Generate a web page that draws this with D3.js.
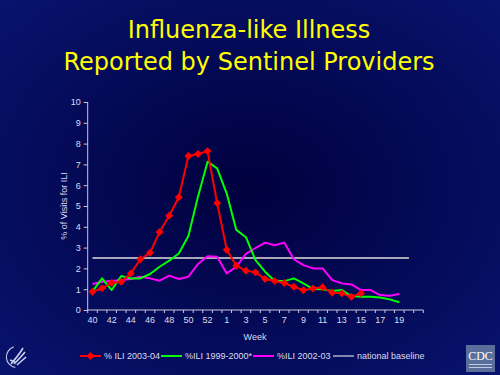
<!DOCTYPE html>
<html>
<head>
<meta charset="utf-8">
<script src="https://cdn.jsdelivr.net/npm/d3@7"></script>
<style>
  html, body { margin: 0; padding: 0; background: #000055; }
  svg { display: block; }
  .axis text { font-family: "Liberation Sans", Arial, sans-serif; font-size: 9px; fill: #dcdcf0; }
  .axis path, .axis line { stroke: #c8c8dc; }
</style>
</head>
<body>
<div id="chart"></div>
<script>
// weeks 40-53 of 2003, then 1-21 of 2004
const weeks = [40,41,42,43,44,45,46,47,48,49,50,51,52,53,
               1,2,3,4,5,6,7,8,9,10,11,12,13,14,15,16,17,18,19,20,21];
const tickLabels = [40,42,44,46,48,50,52,1,3,5,7,9,11,13,15,17,19];

const ili0304 = [0.88,1.04,1.30,1.36,1.76,2.44,2.75,3.75,4.53,5.42,7.40,7.50,7.64,5.14,
                 2.90,2.13,1.89,1.81,1.49,1.39,1.30,1.12,0.95,1.03,1.09,0.83,0.80,0.64,0.80];
const ili9900 = [0.90,1.52,0.96,1.63,1.52,1.52,1.73,2.08,2.37,2.72,3.56,5.45,7.13,6.81,
                 5.60,3.85,3.50,2.40,1.84,1.39,1.39,1.52,1.28,1.01,1.00,0.91,0.96,0.67,0.64,
                 0.64,0.60,0.51,0.37];
const ili0203 = [1.25,1.36,1.39,1.44,1.49,1.60,1.52,1.41,1.65,1.49,1.60,2.21,2.58,2.56,
                 1.76,2.08,2.70,2.98,3.24,3.11,3.24,2.44,2.16,2.00,2.00,1.44,1.28,1.23,0.96,
                 0.96,0.72,0.69,0.77];
const baseline = weeks.slice(0, 34).map(() => 2.5);

const W = 500, H = 375;
const margin = {left: 87.7, right: 76.7, top: 102, bottom: 65};

const svg = d3.select("#chart").append("svg")
              .attr("width", W)
              .attr("height", H);

// slide background: dark navy, a little darker behind the plot
const defs = svg.append("defs");
const bg = defs.append("radialGradient").attr("id", "bg")
               .attr("cx", "50%").attr("cy", "50%").attr("r", "75%");
bg.append("stop").attr("offset", "0%").attr("stop-color", "#00003e");
bg.append("stop").attr("offset", "100%").attr("stop-color", "#081470");

svg.append("rect").attr("width", W).attr("height", H).attr("fill", "url(#bg)");

// Title
const title = svg.append("g")
   .attr("font-family", "'DejaVu Sans', Verdana, sans-serif")
   .attr("font-size", 24)
   .attr("fill", "#ffff00")
   .attr("text-anchor", "middle");
title.append("text").attr("x", 249).attr("y", 38).text("Influenza-like Illness");
title.append("text").attr("x", 249).attr("y", 70).text("Reported by Sentinel Providers");

const x0 = margin.left, x1 = W - margin.right;
const y0 = H - margin.bottom, y1 = margin.top;

const xScale = d3.scaleBand().domain(weeks).range([x0, x1]);
const bw = xScale.bandwidth();
const cx = w => xScale(w) + bw / 2;

const yScale = d3.scaleLinear().domain([0, 10]).range([y0, y1]);

// y axis
svg.append("g")
   .attr("class", "axis")
   .attr("transform", `translate(${x0},0)`)
   .call(d3.axisLeft(yScale).ticks(10).tickSize(4).tickPadding(3))
   .call(g => g.select(".domain").attr("d", `M0,${y0}V${y1}`));

// x axis: labels at category centres, ticks at category boundaries
const xAxis = svg.append("g")
   .attr("class", "axis")
   .attr("transform", `translate(0,${y0})`)
   .call(d3.axisBottom(xScale).tickValues(tickLabels).tickSize(0).tickPadding(7))
   .call(g => g.select(".domain").attr("d", `M${x0},0H${x1}`));

xAxis.selectAll(".boundary")
   .data(weeks.concat(["end"]))
   .enter()
   .append("line")
   .attr("class", "boundary")
   .attr("x1", d => d === "end" ? x1 : xScale(d))
   .attr("x2", d => d === "end" ? x1 : xScale(d))
   .attr("y1", 0)
   .attr("y2", 3);

// axis titles
svg.append("text")
   .attr("transform", `translate(67,${(y0 + y1) / 2}) rotate(-90)`)
   .attr("text-anchor", "middle")
   .attr("font-family", "'Liberation Sans', Arial, sans-serif")
   .attr("font-size", 9)
   .attr("fill", "#dcdcf0")
   .text("% of Visits for ILI");

svg.append("text")
   .attr("x", 255).attr("y", 340)
   .attr("text-anchor", "middle")
   .attr("font-family", "'Liberation Sans', Arial, sans-serif")
   .attr("font-size", 9)
   .attr("fill", "#dcdcf0")
   .text("Week");

const line = d3.line()
   .x((d, i) => cx(weeks[i]))
   .y(d => yScale(d));

const series = [
  {name: "national baseline", values: baseline, color: "#a8a8b8", width: 2},
  {name: "%ILI 2002-03", values: ili0203, color: "#ff00ff", width: 2},
  {name: "%ILI 1999-2000*", values: ili9900, color: "#00ff00", width: 2},
  {name: "% ILI 2003-04", values: ili0304, color: "#ff0000", width: 2}
];

svg.selectAll(".series")
   .data(series)
   .enter()
   .append("path")
   .attr("class", "series")
   .attr("fill", "none")
   .attr("stroke", d => d.color)
   .attr("stroke-width", d => d.width)
   .attr("stroke-linejoin", "round")
   .attr("d", d => line(d.values));

const diamond = d3.symbol().type(d3.symbolDiamond2).size(40);

svg.selectAll(".marker")
   .data(ili0304)
   .enter()
   .append("path")
   .attr("class", "marker")
   .attr("d", diamond)
   .attr("fill", "#ff0000")
   .attr("transform", (d, i) => `translate(${cx(weeks[i])},${yScale(d)})`);

// Legend
const legendItems = [
  {label: "% ILI 2003-04", color: "#ff0000", x: 80, marker: true},
  {label: "%ILI 1999-2000*", color: "#00ff00", x: 161},
  {label: "%ILI 2002-03", color: "#ff00ff", x: 253},
  {label: "national baseline", color: "#ffffff", x: 333, thin: true}
];

const legend = svg.append("g").attr("transform", "translate(0,356)");
const li = legend.selectAll(".item")
   .data(legendItems)
   .enter()
   .append("g")
   .attr("transform", d => `translate(${d.x},0)`);

li.append("line")
   .attr("x1", 0).attr("x2", 21)
   .attr("stroke", d => d.color)
   .attr("stroke-width", d => d.thin ? 1 : 2);

li.filter(d => d.marker)
  .append("path")
  .attr("d", diamond)
  .attr("fill", "#ff0000")
  .attr("transform", "translate(10.5,0)");

li.append("text")
  .attr("x", 24).attr("y", 3)
  .attr("font-family", "'Liberation Sans', Arial, sans-serif")
  .attr("font-size", 9)
  .attr("fill", "#dcdcf0")
  .text(d => d.label);

// HHS emblem (bottom left)
const hhs = svg.append("g").attr("transform", "translate(17,357)");
hhs.append("path")
   .attr("d", d3.arc()({innerRadius: 10, outerRadius: 11.2, startAngle: -Math.PI * 0.95, endAngle: -Math.PI * 0.1}))
   .attr("fill", "#b8c0e0");
hhs.append("path")
   .attr("d", "M-6,7 C-2,2 2,-2 6,-9 M-3,7 C1,3 4,0 8,-5 M0,8 C3,5 6,3 9,0 M-7,3 L-2,5")
   .attr("fill", "none")
   .attr("stroke", "#c8d0ec")
   .attr("stroke-width", 1.6);

// CDC logo (bottom right)
const cdc = svg.append("g").attr("transform", "translate(466,345)");
cdc.append("rect").attr("width", 29).attr("height", 27).attr("fill", "#5a6e9c");
cdc.append("text")
   .attr("x", 14.5).attr("y", 15)
   .attr("text-anchor", "middle")
   .attr("font-family", "'Liberation Serif', 'Times New Roman', serif")
   .attr("font-size", 12)
   .attr("fill", "#ffffff")
   .text("CDC");
cdc.append("rect").attr("x", 3).attr("y", 19).attr("width", 23).attr("height", 1).attr("fill", "#c0c8e0");
cdc.append("rect").attr("x", 3).attr("y", 22).attr("width", 23).attr("height", 1).attr("fill", "#c0c8e0");
</script>
</body>
</html>
